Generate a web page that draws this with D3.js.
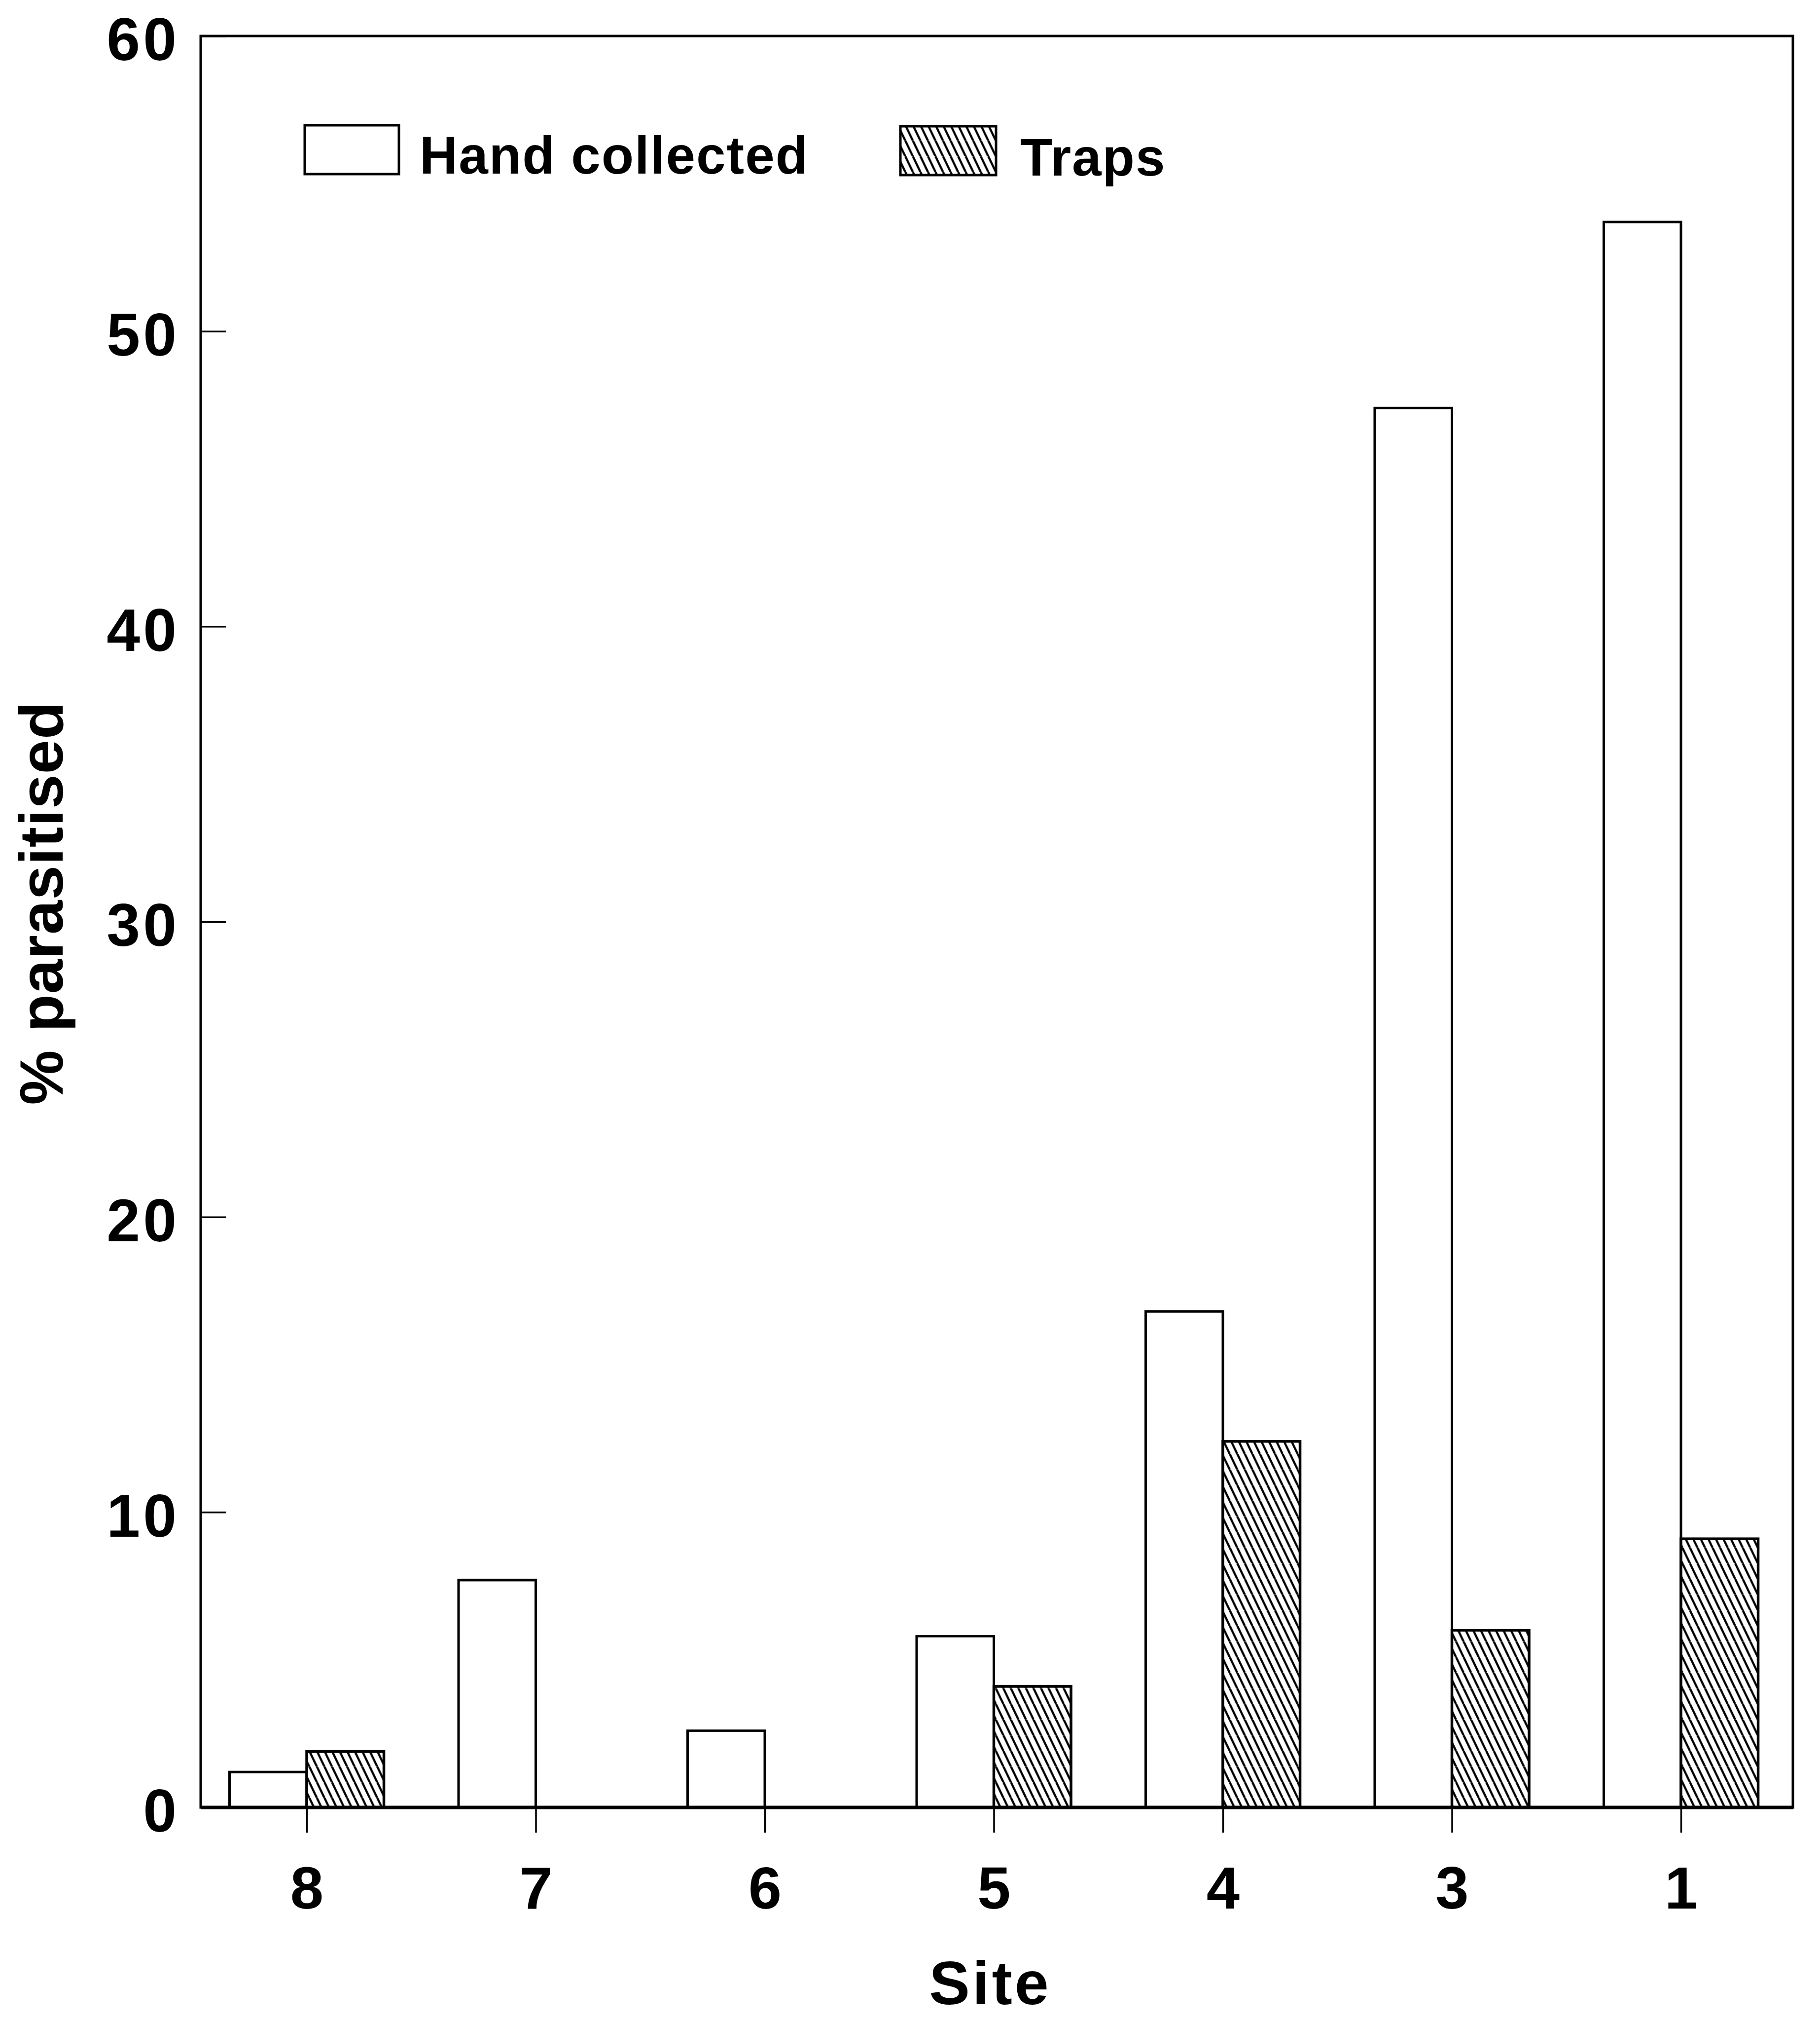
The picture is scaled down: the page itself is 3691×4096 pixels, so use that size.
<!DOCTYPE html>
<html><head><meta charset="utf-8">
<script src="https://cdn.jsdelivr.net/npm/d3@7"></script>
<style>body{margin:0;background:#fff}</style>
</head><body>
<script>
// ---- data ----
const categories = ["8", "7", "6", "5", "4", "3", "1"];
const handCollected = [1.2, 7.7, 2.6, 5.8, 16.8, 47.4, 53.7];
const traps = [1.9, 0, 0, 4.1, 12.4, 6.0, 9.1];
const yTicks = [0, 10, 20, 30, 40, 50, 60];
const seriesNames = ["Hand collected", "Traps"];
const xTitle = "Site";
const yTitle = "% parasitised";

// ---- layout ----
const W = 3691, H = 4096;
const FONT = "'Liberation Sans', Arial, Helvetica, sans-serif";
const frame = {left: 407, right: 3636, top: 73, bottom: 3665};

const svg = d3.select("body").append("svg")
  .attr("width", W).attr("height", H)
  .style("background", "#fff");

const y = d3.scaleLinear().domain([0, 60]).range([frame.bottom, frame.top]);
const x = d3.scalePoint().domain(categories).range([622, 3409]);
const bw = x.step() * 0.337;

// hatch pattern
const hx = 15.3, hy = 31.7;
const pat = svg.append("defs").append("pattern")
  .attr("id", "hatch").attr("patternUnits", "userSpaceOnUse")
  .attr("width", hx).attr("height", hy);
pat.append("rect").attr("width", hx).attr("height", hy).attr("fill", "#fff");
[-1, 0, 1].forEach(k => {
  pat.append("line")
    .attr("x1", k * hx).attr("y1", 0)
    .attr("x2", (k + 1) * hx).attr("y2", hy)
    .attr("stroke", "#000").attr("stroke-width", 4.4);
});

// bars
const handData = categories.map((c, i) => ({c, v: handCollected[i]}));
const trapData = categories.map((c, i) => ({c, v: traps[i]})).filter(d => d.v > 0);

svg.append("g").selectAll("rect").data(handData).join("rect")
  .attr("x", d => x(d.c) - bw)
  .attr("y", d => y(d.v))
  .attr("width", bw)
  .attr("height", d => y(0) - y(d.v))
  .attr("fill", "#fff").attr("stroke", "#000").attr("stroke-width", 5);

svg.append("g").selectAll("rect").data(trapData).join("rect")
  .attr("x", d => x(d.c))
  .attr("y", d => y(d.v))
  .attr("width", bw)
  .attr("height", d => y(0) - y(d.v))
  .attr("fill", "url(#hatch)").attr("stroke", "#000").attr("stroke-width", 5.5);

// frame
svg.append("rect")
  .attr("x", frame.left).attr("y", frame.top)
  .attr("width", frame.right - frame.left).attr("height", frame.bottom - frame.top)
  .attr("fill", "none").attr("stroke", "#000").attr("stroke-width", 5);
svg.append("line")
  .attr("x1", frame.left).attr("x2", frame.right)
  .attr("y1", frame.bottom).attr("y2", frame.bottom)
  .attr("stroke", "#000").attr("stroke-width", 7);

// y axis
const yAxis = svg.append("g")
  .attr("transform", `translate(${frame.left},0)`)
  .call(d3.axisLeft(y).tickValues(yTicks).tickSizeInner(-51).tickSizeOuter(0).tickPadding(43).tickFormat(d3.format("d")));
yAxis.select(".domain").remove();
yAxis.selectAll("line").attr("stroke", "#000").attr("stroke-width", 3.5);
yAxis.selectAll("text")
  .attr("font-family", FONT).attr("font-size", 122).attr("font-weight", "bold")
  .attr("fill", "#000").attr("letter-spacing", 6).attr("dy", "0.40em");

// x axis
const xAxis = svg.append("g")
  .attr("transform", `translate(0,${frame.bottom})`)
  .call(d3.axisBottom(x).tickSizeInner(51).tickSizeOuter(0).tickPadding(68));
xAxis.select(".domain").remove();
xAxis.selectAll("line").attr("stroke", "#000").attr("stroke-width", 3.5);
xAxis.selectAll("text")
  .attr("font-family", FONT).attr("font-size", 121).attr("font-weight", "bold")
  .attr("fill", "#000");

// axis titles
svg.append("text")
  .attr("x", 2008).attr("y", 4064)
  .attr("text-anchor", "middle")
  .attr("font-family", FONT).attr("font-size", 124).attr("font-weight", "bold")
  .attr("letter-spacing", 5)
  .text(xTitle);

svg.append("text")
  .attr("transform", "translate(127,1831) rotate(-90)")
  .attr("text-anchor", "middle")
  .attr("font-family", FONT).attr("font-size", 125).attr("font-weight", "bold")
  .attr("letter-spacing", 1)
  .text(yTitle);

// legend
const legend = [
  {name: seriesNames[0], fill: "#fff", box: [618, 254, 191, 99], tx: 851, ty: 352},
  {name: seriesNames[1], fill: "url(#hatch)", box: [1826, 256, 194, 99], tx: 2069, ty: 356}
];
const lg = svg.append("g");
legend.forEach(l => {
  lg.append("rect")
    .attr("x", l.box[0]).attr("y", l.box[1]).attr("width", l.box[2]).attr("height", l.box[3])
    .attr("fill", l.fill).attr("stroke", "#000").attr("stroke-width", 5);
  lg.append("text")
    .attr("x", l.tx).attr("y", l.ty)
    .attr("font-family", FONT).attr("font-size", 107).attr("font-weight", "bold")
    .attr("letter-spacing", 2)
    .text(l.name);
});
</script>
</body></html>
